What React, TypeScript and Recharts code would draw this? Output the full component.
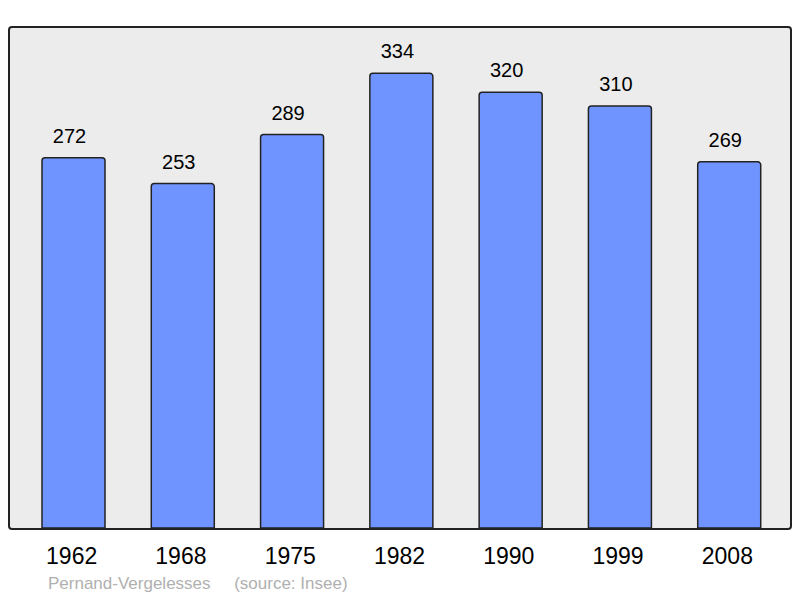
import { BarChart, Bar, XAxis, YAxis, CartesianGrid, LabelList } from 'recharts';

const YEARS = ['1962', '1968', '1975', '1982', '1990', '1999', '2008'];
const POPULATION = [272, 253, 289, 334, 320, 310, 269];

const FONT = '"Liberation Sans", Arial, sans-serif';
const BAR = '#7094ff';
const EDGE = '#222';

const data = YEARS.map((year, i) => ({ year, pop: POPULATION[i] }));

export default function App() {
  return (
    <div style={{ position: 'absolute', left: 0, top: 0, width: 800, height: 598, background: '#fff', fontFamily: FONT }}>
      <BarChart width={800} height={598} data={data} margin={{ top: 27, right: 9, bottom: 0, left: 9 }}>
        <CartesianGrid fill="#ececec" horizontal={false} vertical={false} />
        <XAxis
          dataKey="year"
          axisLine={false}
          tickLine={false}
          tickSize={0}
          tickMargin={20}
          padding={{ left: 10, right: 7 }}
          tick={{ fill: '#000', fontSize: 23, fontFamily: FONT, dx: -2 }}
          height={70}
        />
        <YAxis hide domain={[0, 368]} />
        <Bar dataKey="pop" fill={BAR} stroke={EDGE} strokeWidth={1.5} barSize={63} radius={[3, 3, 0, 0]} isAnimationActive={false}>
          <LabelList dataKey="pop" position="top" offset={15} dx={-4} fill="#000" fontSize={20} fontFamily={FONT} />
        </Bar>
      </BarChart>
      {/* cadre arrondi par-dessus le fond gris */}
      <div
        style={{
          position: 'absolute', left: 8, top: 26, width: 780, height: 500,
          border: `2px solid ${EDGE}`, borderRadius: 4, pointerEvents: 'none',
        }}
      />
      <div style={{ position: 'absolute', left: 48, top: 574, fontSize: 17, color: '#b0b0b0', whiteSpace: 'pre' }}>
        {'Pernand-Vergelesses     (source: Insee)'}
      </div>
    </div>
  );
}
